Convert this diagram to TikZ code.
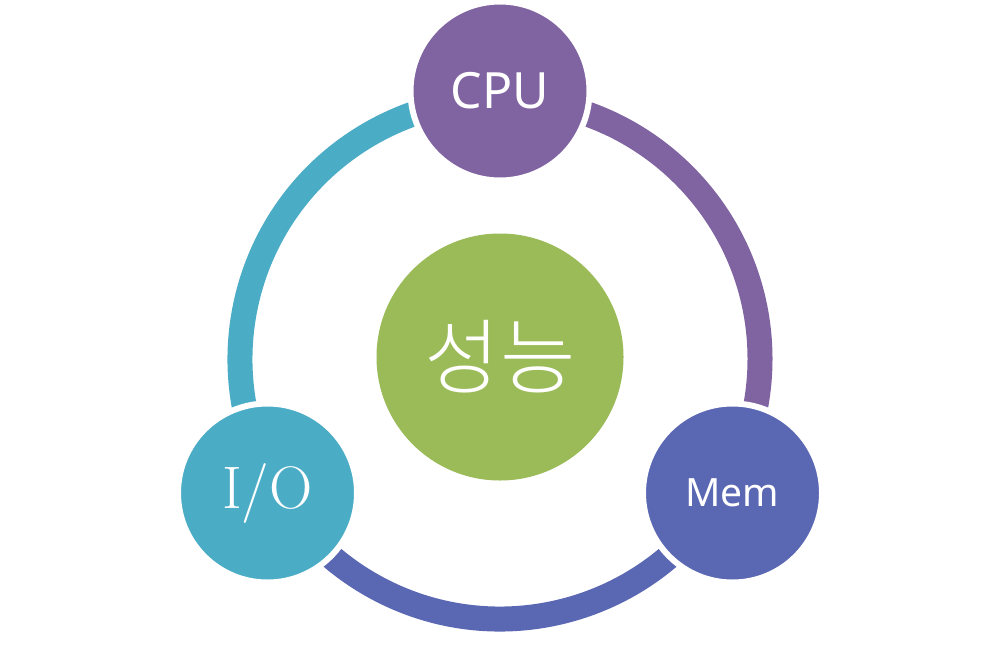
\documentclass[tikz,border=0pt]{standalone}
\usepackage{fontspec}
\setmainfont{Noto Sans}
\newfontfamily\krfont{Noto Sans CJK KR Light}
\definecolor{cpuc}{HTML}{8064A2}
\definecolor{memc}{HTML}{5A67B3}
\definecolor{ioc}{HTML}{4BACC6}
\definecolor{perfc}{HTML}{9BBB59}
\begin{document}
\begin{tikzpicture}[x=1pt,y=-1pt,
  ringseg/.style={line width=25pt,line cap=butt},
  satellite/.style={circle,draw=white,line width=6pt,minimum size=179pt,inner sep=0pt,text=white}]
\useasboundingbox[fill=white] (0,0) rectangle (1000,669);
\coordinate (c) at (500,359);
% ring segments
\draw[ringseg,cpuc] (c) ++(270:260) arc[start angle=270,end angle=390,radius=260];
\draw[ringseg,memc] (c) ++(30:260) arc[start angle=30,end angle=150,radius=260];
\draw[ringseg,ioc] (c) ++(150:260) arc[start angle=150,end angle=270,radius=260];
% central node
\node[circle,fill=perfc,minimum size=247pt,inner sep=0pt,text=white] (perf) at (500,357)
  {\krfont\fontsize{82}{84}\selectfont 성능};
% satellites
\node[satellite,fill=cpuc] (cpu) at (500,91) {\fontsize{50}{52}\selectfont CPU};
\node[satellite,fill=memc] (mem) at (732.5,493) {\fontsize{39}{40}\selectfont Mem};
\node[satellite,fill=ioc] (io) at (267.5,493) {\fontspec{Latin Modern Roman}\fontsize{60}{62}\selectfont I/O};
\end{tikzpicture}
\end{document}
